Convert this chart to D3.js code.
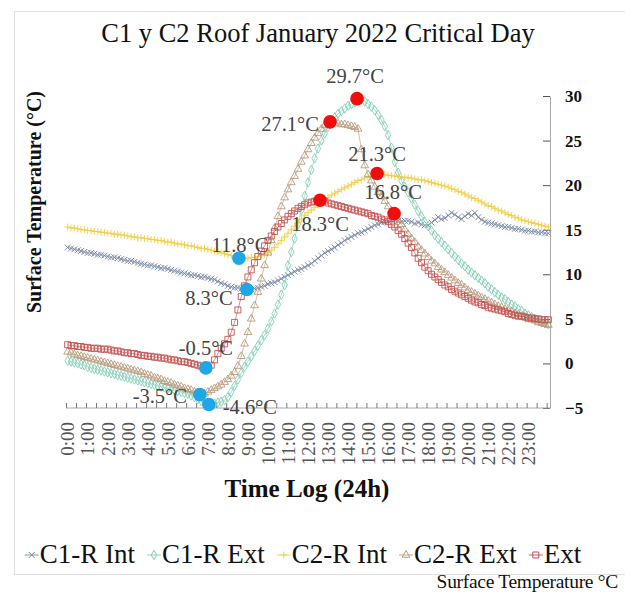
<!DOCTYPE html>
<html>
<head>
<meta charset="utf-8">
<script src="https://cdn.jsdelivr.net/npm/d3@7"></script>
<style>
  html, body { margin: 0; padding: 0; background: #fff; }
  svg { display: block; font-family: "Liberation Serif", "Times New Roman", serif; }
</style>
</head>
<body>
<svg id="chart" width="625" height="596"></svg>
<script>
// ---------------- DATA ----------------
const hourLabels = ["0:00","1:00","2:00","3:00","4:00","5:00","6:00","7:00","8:00","9:00","10:00","11:00",
  "12:00","13:00","14:00","15:00","16:00","17:00","18:00","19:00","20:00","21:00","22:00","23:00"];
const yTicks = [-5, 0, 5, 10, 15, 20, 25, 30];
const seriesNames = ["C1-R Int", "C1-R Ext", "C2-R Int", "C2-R Ext", "Ext"];

// 10-minute samples, 0:00 .. 24:00 (145 values)
const c1rInt = [
  13.0, 12.9, 12.8, 12.7, 12.6, 12.5,
  12.4, 12.4, 12.3, 12.2, 12.2, 12.1,
  12.0, 11.9, 11.9, 11.8, 11.7, 11.6,
  11.5, 11.5, 11.4, 11.3, 11.2, 11.1,
  11.0, 11.0, 10.9, 10.8, 10.7, 10.7,
  10.6, 10.5, 10.4, 10.3, 10.2, 10.1,
  10.0, 9.9, 9.9, 9.8, 9.7, 9.7,
  9.6, 9.5, 9.4, 9.2, 9.0, 8.9,
  8.7, 8.6, 8.5, 8.5, 8.4, 8.4,
  8.3, 8.3, 8.4, 8.5, 8.6, 8.7,
  8.9, 9.0, 9.1, 9.3, 9.5, 9.7,
  9.9, 10.1, 10.3, 10.5, 10.6, 10.8,
  11.0, 11.2, 11.5, 11.8, 12.1, 12.4,
  12.6, 12.8, 13.0, 13.3, 13.5, 13.8,
  14.0, 14.2, 14.4, 14.6, 14.7, 14.9,
  15.1, 15.3, 15.5, 15.6, 15.8, 15.9,
  16.0, 16.1, 16.1, 16.0, 15.9, 16.0,
  16.0, 15.9, 15.7, 15.8, 15.6, 15.5,
  15.5, 15.8, 16.1, 16.4, 16.2, 16.3,
  16.6, 16.9, 16.7, 16.4, 16.2, 16.5,
  16.8, 16.6, 16.9, 16.4, 16.1, 15.9,
  15.8, 15.7, 15.6, 15.5, 15.4, 15.3,
  15.3, 15.2, 15.1, 15.1, 15.0, 14.9,
  14.9, 14.8, 14.8, 14.7, 14.7, 14.6,
  14.6
];
const c1rExt = [
  0.3, 0.2, 0.1, 0.0, -0.1, -0.2,
  -0.4, -0.5, -0.6, -0.7, -0.8, -0.9,
  -1.0, -1.1, -1.2, -1.3, -1.4, -1.5,
  -1.6, -1.7, -1.8, -1.9, -2.0, -2.1,
  -2.2, -2.3, -2.4, -2.5, -2.6, -2.7,
  -2.8, -2.9, -3.0, -3.1, -3.2, -3.3,
  -3.4, -3.6, -3.8, -4.0, -4.2, -4.4,
  -4.6, -4.5, -4.5, -4.4, -4.3, -4.1,
  -3.8, -3.2, -2.5, -1.8, -1.1, -0.4,
  0.2, 0.8, 1.4, 2.0, 2.6, 3.2,
  3.9, 4.7, 5.6, 6.6, 7.7, 8.8,
  11.0, 12.5, 14.0, 15.6, 17.2, 18.8,
  20.3, 21.7, 23.0, 24.1, 25.0, 25.8,
  26.5, 27.1, 27.6, 28.0, 28.3, 28.6,
  28.9, 29.1, 29.3, 29.7, 29.6, 29.4,
  29.1, 28.8, 28.4, 27.9, 27.3, 26.6,
  25.6, 24.2, 22.6, 21.4, 20.5, 19.8,
  19.2, 18.5, 17.8, 17.1, 16.5, 15.9,
  15.4, 14.9, 14.4, 14.0, 13.6, 13.2,
  12.8, 12.4, 12.0, 11.6, 11.2, 10.9,
  10.5, 10.2, 9.9, 9.6, 9.3, 9.0,
  8.6, 8.3, 8.0, 7.7, 7.4, 7.2,
  6.9, 6.6, 6.4, 6.1, 5.9, 5.6,
  5.4, 5.2, 5.0, 4.8, 4.6, 4.5,
  4.4
];
const c2rInt = [
  15.3, 15.2, 15.2, 15.1, 15.0, 15.0,
  14.9, 14.9, 14.8, 14.8, 14.7, 14.7,
  14.6, 14.6, 14.5, 14.5, 14.4, 14.4,
  14.3, 14.2, 14.2, 14.1, 14.1, 14.0,
  14.0, 13.9, 13.9, 13.8, 13.8, 13.7,
  13.6, 13.6, 13.5, 13.4, 13.4, 13.3,
  13.2, 13.2, 13.1, 13.0, 12.9, 12.9,
  12.8, 12.7, 12.6, 12.5, 12.4, 12.3,
  12.2, 12.1, 12.0, 11.9, 11.8, 11.8,
  11.8, 11.9, 11.9, 12.0, 12.1, 12.2,
  12.4, 12.7, 13.0, 13.4, 13.8, 14.2,
  14.6, 15.0, 15.4, 15.8, 16.2, 16.6,
  16.9, 17.2, 17.5, 17.8, 18.1, 18.4,
  18.6, 18.9, 19.1, 19.3, 19.5, 19.7,
  19.9, 20.1, 20.3, 20.5, 20.6, 20.8,
  20.9, 21.0, 21.1, 21.3, 21.2, 21.2,
  21.1, 21.1, 21.0, 21.0, 20.9, 20.9,
  20.8, 20.8, 20.7, 20.6, 20.6, 20.5,
  20.4, 20.3, 20.2, 20.1, 20.0, 19.9,
  19.8, 19.6, 19.5, 19.3, 19.2, 19.0,
  18.8, 18.6, 18.5, 18.3, 18.1, 17.9,
  17.7, 17.6, 17.4, 17.2, 17.1, 16.9,
  16.7, 16.6, 16.4, 16.3, 16.1, 16.0,
  15.9, 15.8, 15.7, 15.6, 15.5, 15.4,
  15.3
];
const c2rExt = [
  1.3, 1.2, 1.0, 0.9, 0.8, 0.7,
  0.6, 0.5, 0.4, 0.3, 0.2, 0.1,
  0.0, -0.1, -0.2, -0.3, -0.4, -0.5,
  -0.6, -0.7, -0.8, -0.9, -1.0, -1.2,
  -1.3, -1.4, -1.6, -1.7, -1.8, -2.0,
  -2.1, -2.2, -2.4, -2.5, -2.6, -2.8,
  -2.9, -3.0, -3.2, -3.3, -3.5, -3.4,
  -3.2, -3.0, -2.8, -2.6, -2.4, -2.1,
  -1.8, -1.4, -1.0, -0.3, 0.8, 2.2,
  3.5, 5.0, 6.5, 8.0, 9.5, 11.0,
  12.4, 13.8, 15.2, 16.5, 17.6, 18.6,
  19.5, 20.3, 21.0, 21.8, 22.6, 23.3,
  24.0, 24.7, 25.3, 25.8, 26.3, 26.7,
  27.0, 27.1, 27.0, 26.9, 26.8, 26.8,
  26.7, 26.6, 26.5, 26.3, 24.0, 22.2,
  21.2, 20.5, 19.8, 19.2, 18.7, 18.2,
  17.6, 17.1, 16.6, 16.1, 15.6, 15.0,
  14.5, 14.0, 13.6, 13.1, 12.7, 12.3,
  11.9, 11.5, 11.2, 10.8, 10.5, 10.2,
  9.9, 9.6, 9.3, 9.0, 8.8, 8.5,
  8.2, 8.0, 7.8, 7.6, 7.4, 7.2,
  7.0, 6.8, 6.6, 6.4, 6.3, 6.1,
  5.9, 5.8, 5.6, 5.5, 5.3, 5.2,
  5.0, 4.9, 4.8, 4.6, 4.5, 4.4,
  4.3
];
const ext = [
  2.1, 2.0, 2.0, 1.9, 1.9, 1.8,
  1.8, 1.7, 1.7, 1.7, 1.6, 1.6,
  1.6, 1.5, 1.4, 1.4, 1.3, 1.2,
  1.2, 1.1, 1.1, 1.0, 0.9, 0.9,
  0.8, 0.8, 0.7, 0.7, 0.6, 0.6,
  0.5, 0.4, 0.4, 0.3, 0.2, 0.2,
  0.1, 0.0, -0.1, -0.2, -0.3, -0.4,
  -0.5, -0.2, 0.4, 1.1, 1.7, 2.2,
  2.7, 3.5, 4.6, 6.0, 7.5, 8.7,
  9.7, 10.5, 11.3, 12.0, 12.6, 13.2,
  13.8, 14.3, 14.8, 15.3, 15.7, 16.1,
  16.5, 16.8, 17.1, 17.4, 17.6, 17.8,
  18.0, 18.1, 18.2, 18.3, 18.3, 18.2,
  18.0, 17.9, 17.8, 17.7, 17.6, 17.5,
  17.4, 17.3, 17.2, 17.1, 17.0, 16.9,
  16.8, 16.6, 16.5, 16.4, 16.2, 16.1,
  15.9, 15.6, 15.3, 14.9, 14.5, 14.0,
  13.5, 13.0, 12.4, 11.8, 11.3, 10.8,
  10.4, 10.0, 9.7, 9.4, 9.1, 8.8,
  8.6, 8.3, 8.1, 7.9, 7.7, 7.5,
  7.3, 7.1, 6.9, 6.8, 6.6, 6.5,
  6.3, 6.2, 6.1, 6.0, 5.9, 5.8,
  5.6, 5.5, 5.4, 5.3, 5.3, 5.2,
  5.1, 5.1, 5.0, 5.0, 4.9, 4.9,
  4.9
];

// annotated extremes (value, time in hours, kind)
const annValues = [29.7, 27.1, 21.3, 18.3, 16.8, 11.8, 8.3, -0.5, -3.5, -4.6];
const annHours  = [14.45, 13.1, 15.45, 12.6, 16.3, 8.55, 8.95, 6.9, 6.6, 7.05];
const annKinds  = ["max","max","max","max","max","min","min","min","min","min"];

// ---------------- LAYOUT / STYLE ----------------
const annOffsets = [[-2,-16],[-40,9],[0,-13],[0,31],[-1,-15],[1,-6],[-38,16],[0,-13],[-40,8],[41,10]];
const seriesStyle = [
  { color: "#7686a6", shape: "x" },
  { color: "#7fd0b2", shape: "diamond" },
  { color: "#f0cf45", shape: "plus" },
  { color: "#b99a7c", shape: "triangle" },
  { color: "#c3504f", shape: "square" }
];
const seriesData = [c1rInt, c1rExt, c2rInt, c2rExt, ext];

const svg = d3.select("#chart");
svg.append("rect").attr("width", 625).attr("height", 596).attr("fill", "#fff");
svg.append("rect").attr("x", 14.5).attr("y", 11.5).attr("width", 640).attr("height", 563)
  .attr("fill", "none").attr("stroke", "#e0e0e0");

const N = c1rInt.length;
const x = d3.scaleLinear().domain([0, N]).range([66, 550]);
const y = d3.scaleLinear().domain([-5, 30]).range([408, 96]);
const xi = i => x(i + 0.5);

function shapePath(shape) {
  switch (shape) {
    case "x": return "M-3,-3L3,3M-3,3L3,-3";
    case "plus": return "M-3.5,0H3.5M0,-3.5V3.5";
    case "diamond": return d3.symbol(d3.symbolDiamond, 26)();
    case "triangle": return d3.symbol(d3.symbolTriangle, 26)();
    case "square": return d3.symbol(d3.symbolSquare, 36)();
  }
}

// Title
svg.append("text").attr("x", 318).attr("y", 42).attr("text-anchor", "middle")
  .attr("font-size", 26.5).attr("fill", "#111").text("C1 y C2 Roof January 2022 Critical Day");

// Y axis (right)
const yAxis = d3.axisRight(y).tickValues(yTicks).tickSizeInner(-7).tickSizeOuter(0).tickPadding(15);
const gy = svg.append("g").attr("transform", "translate(550,0)").call(yAxis);
gy.select(".domain").attr("stroke", "#a8a8a8");
gy.selectAll(".tick line").attr("stroke", "#555");
gy.selectAll(".tick text").attr("font-family", "Liberation Serif").attr("font-weight", "bold")
  .attr("font-size", 17).attr("fill", "#111").attr("text-anchor", "start");

// X axis
const gx = svg.append("g").attr("transform", "translate(0,408)");
gx.append("line").attr("x1", 66).attr("x2", 550).attr("stroke", "#a8a8a8");
const tickAxis = d3.axisTop(x).tickValues(d3.range(0, N + 1, 3)).tickSize(5).tickFormat("").tickSizeOuter(0);
const gt = gx.append("g").call(tickAxis);
gt.select(".domain").remove();
gt.selectAll(".tick line").attr("stroke", "#777");
const labelAxis = d3.axisBottom(x).tickValues(hourLabels.map((_, h) => h * 6 + 0.5))
  .tickFormat((d, i) => hourLabels[i]).tickSize(0).tickPadding(0);
const gl = gx.append("g").call(labelAxis);
gl.select(".domain").remove();
gl.selectAll(".tick text")
  .attr("font-family", "Liberation Serif").attr("font-size", 19).attr("fill", "#555")
  .attr("text-anchor", "end").attr("transform", "rotate(-90)")
  .attr("x", -14).attr("y", 0).attr("dy", "0.33em");

// Axis titles
svg.append("text").attr("x", 307).attr("y", 497).attr("text-anchor", "middle")
  .attr("font-weight", "bold").attr("font-size", 25).attr("fill", "#111").text("Time Log (24h)");
svg.append("text").attr("transform", "translate(41,202) rotate(-90)").attr("text-anchor", "middle")
  .attr("font-weight", "bold").attr("font-size", 20).attr("fill", "#111").text("Surface Temperature (°C)");

// Series
const plot = svg.append("g");
seriesData.forEach((data, s) => {
  const st = seriesStyle[s];
  const line = d3.line().x((d, i) => xi(i)).y(d => y(d));
  plot.append("path").datum(data).attr("d", line).attr("fill", "none")
    .attr("stroke", st.color).attr("stroke-width", 0.8).attr("stroke-opacity", 0.8);
  plot.append("g").selectAll("path").data(data).join("path")
    .attr("transform", (d, i) => `translate(${xi(i)},${y(d)})`)
    .attr("d", shapePath(st.shape))
    .attr("fill", "none").attr("stroke", st.color).attr("stroke-width", 0.9);
});

// Annotations
const ann = svg.append("g");
annValues.forEach((v, k) => {
  const cx = x(annHours[k] * 6 + 0.5), cy = y(v);
  ann.append("text").attr("x", cx + annOffsets[k][0]).attr("y", cy + annOffsets[k][1])
    .attr("text-anchor", "middle").attr("font-size", 20.5).attr("fill", "#444")
    .text(v.toFixed(1) + "°C");
});
annValues.forEach((v, k) => {
  ann.append("circle").attr("cx", x(annHours[k] * 6 + 0.5)).attr("cy", y(v)).attr("r", 6.8)
    .attr("fill", annKinds[k] === "max" ? "#f20d0d" : "#1ea6e6");
});

// Legend
const leg = svg.append("g").attr("transform", "translate(0,563)");
const items = [];
seriesNames.forEach((name, s) => {
  const g = leg.append("g");
  const st = seriesStyle[s];
  g.append("line").attr("x1", 0).attr("x2", 14).attr("y1", -8).attr("y2", -8)
    .attr("stroke", st.color).attr("stroke-width", 0.9);
  g.append("path").attr("transform", "translate(7,-8)").attr("d", shapePath(st.shape))
    .attr("fill", "none").attr("stroke", st.color);
  const t = g.append("text").attr("x", 15).attr("font-size", 27).attr("fill", "#111").text(name);
  const w = 15 + t.node().getComputedTextLength();
  items.push({ g, w });
});
const gap = 12;
const total = d3.sum(items, d => d.w) + gap * (items.length - 1);
let cursor = 303 - total / 2;
items.forEach(it => { it.g.attr("transform", `translate(${cursor},0)`); cursor += it.w + gap; });

svg.append("text").attr("x", 618).attr("y", 588).attr("text-anchor", "end")
  .attr("font-size", 19.5).attr("letter-spacing", -0.3).attr("fill", "#111").text("Surface Temperature °C");
</script>
</body>
</html>
